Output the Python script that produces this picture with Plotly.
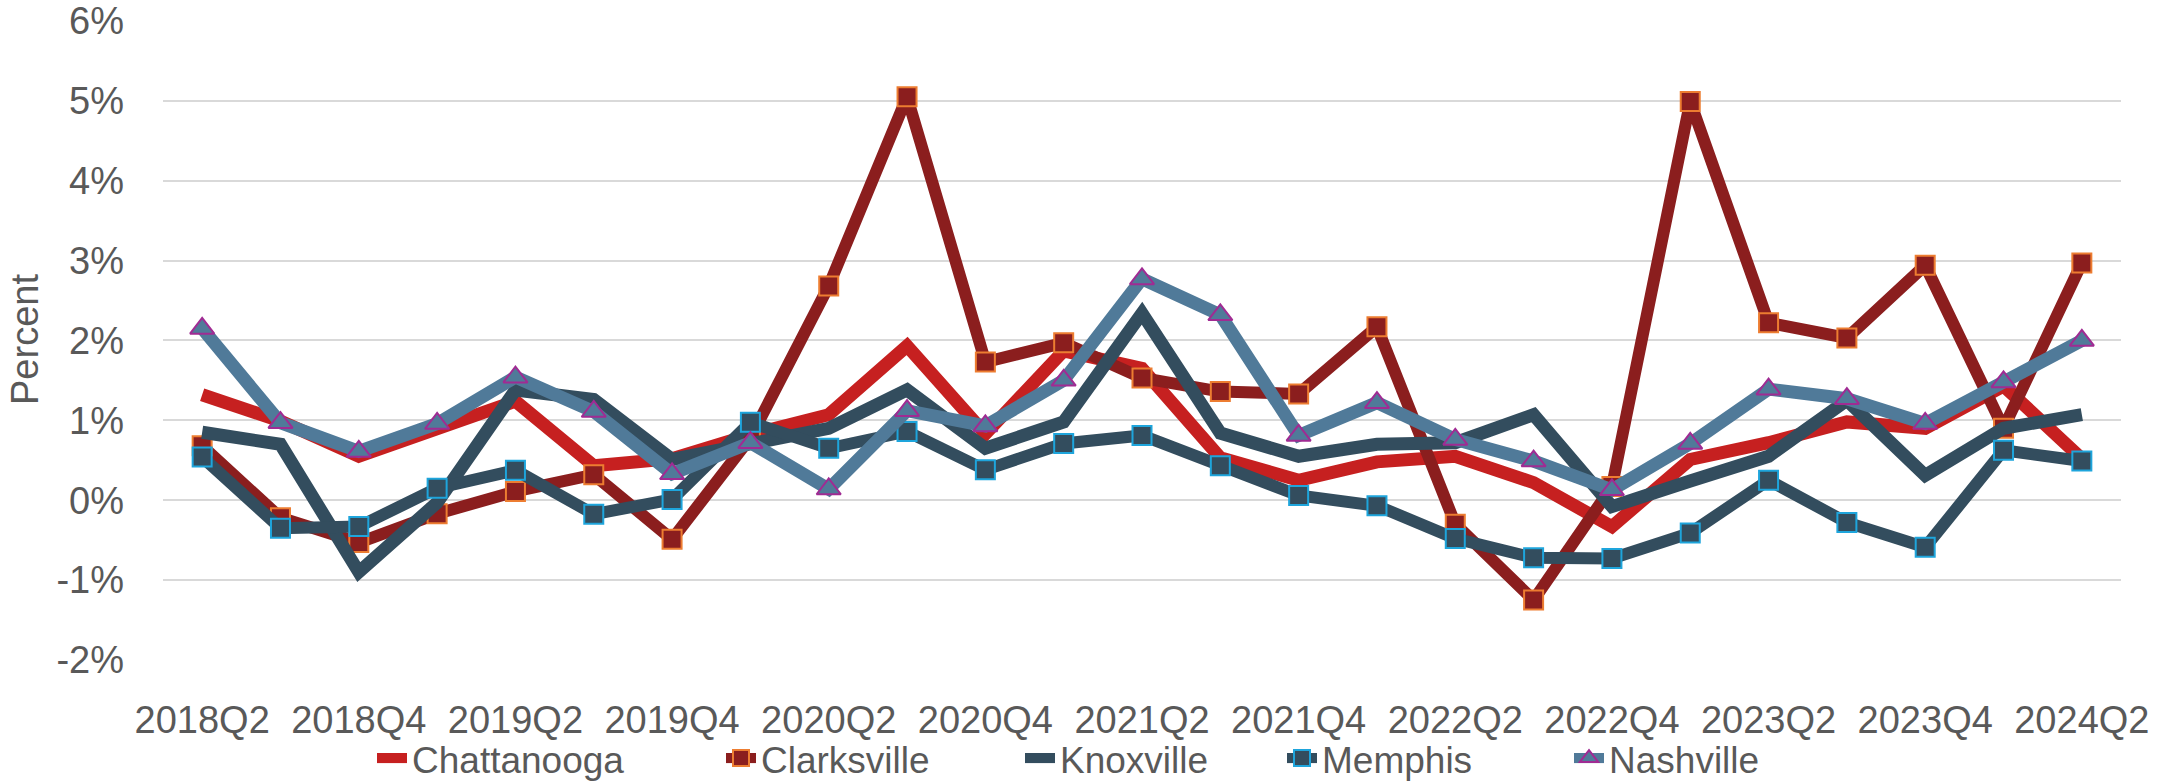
import plotly.graph_objects as go

quarters = ["2018Q2", "2018Q3", "2018Q4", "2019Q1", "2019Q2", "2019Q3", "2019Q4",
            "2020Q1", "2020Q2", "2020Q3", "2020Q4", "2021Q1", "2021Q2", "2021Q3",
            "2021Q4", "2022Q1", "2022Q2", "2022Q3", "2022Q4", "2023Q1", "2023Q2",
            "2023Q3", "2023Q4", "2024Q1", "2024Q2"]
x_tick_labels = ["2018Q2", "2018Q4", "2019Q2", "2019Q4", "2020Q2", "2020Q4", "2021Q2",
                 "2021Q4", "2022Q2", "2022Q4", "2023Q2", "2023Q4", "2024Q2"]

chattanooga = [1.32, 0.99, 0.55, 0.88, 1.24, 0.43, 0.52, 0.82, 1.07, 1.93, 0.83, 1.87, 1.65,
               0.53, 0.25, 0.48, 0.55, 0.22, -0.33, 0.51, 0.72, 0.98, 0.90, 1.43, 0.52]
clarksville = [0.68, -0.22, -0.53, -0.17, 0.11, 0.32, -0.49, 0.78, 2.68, 5.05, 1.73, 1.97, 1.53,
               1.36, 1.33, 2.17, -0.30, -1.25, 0.17, 4.99, 2.22, 2.03, 2.94, 0.90, 2.97]
knoxville = [0.85, 0.70, -0.90, -0.03, 1.38, 1.26, 0.51, 0.70, 0.90, 1.38, 0.65, 0.98, 2.34,
             0.84, 0.55, 0.70, 0.72, 1.07, -0.08, 0.24, 0.55, 1.25, 0.31, 0.90, 1.07]
memphis = [0.54, -0.35, -0.33, 0.15, 0.375, -0.175, 0.01, 0.975, 0.65, 0.86, 0.38, 0.71, 0.81,
           0.43, 0.06, -0.07, -0.48, -0.72, -0.73, -0.41, 0.25, -0.28, -0.59, 0.625, 0.49]
nashville = [2.15, 0.97, 0.61, 0.96, 1.54, 1.11, 0.33, 0.72, 0.14, 1.12, 0.93, 1.50, 2.77,
             2.32, 0.81, 1.22, 0.76, 0.49, 0.13, 0.71, 1.39, 1.27, 0.96, 1.48, 2.00]

y_tick_vals = [-2, -1, 0, 1, 2, 3, 4, 5, 6]
y_tick_text = ["-2%", "-1%", "0%", "1%", "2%", "3%", "4%", "5%", "6%"]

FONT = "Liberation Sans, Arial, sans-serif"
GREY = "#595959"
W, H = 2161, 782
ML, MR, MT, MB = 163, 40, 20, 122

fig = go.Figure()
fig.add_trace(go.Scatter(x=quarters, y=chattanooga, name="Chattanooga", mode="lines",
                         legend="legend",
                         line=dict(color="#C62020", width=13)))
fig.add_trace(go.Scatter(x=quarters, y=clarksville, name="Clarksville", mode="lines+markers",
                         legend="legend2",
                         line=dict(color="#8B1E1E", width=12),
                         marker=dict(symbol="square", size=19, color="#8B1E1E",
                                     line=dict(color="#ED7D31", width=2))))
fig.add_trace(go.Scatter(x=quarters, y=knoxville, name="Knoxville", mode="lines",
                         legend="legend3",
                         line=dict(color="#334D5E", width=13)))
fig.add_trace(go.Scatter(x=quarters, y=memphis, name="Memphis", mode="lines+markers",
                         legend="legend4",
                         line=dict(color="#334D5E", width=12),
                         marker=dict(symbol="square", size=19, color="#334D5E",
                                     line=dict(color="#1EA5DC", width=2))))
fig.add_trace(go.Scatter(x=quarters, y=nashville, name="Nashville", mode="lines+markers",
                         legend="legend5",
                         line=dict(color="#507A99", width=13),
                         marker=dict(symbol="triangle-up", size=21, color="#507A99",
                                     line=dict(color="#A02B93", width=2))))

# legend text start positions (px)
legend_text_x = [413, 762, 1061, 1323, 1610]
legend_keys = ["legend", "legend2", "legend3", "legend4", "legend5"]


def legend_box(tx):
    return dict(orientation="h", xref="container", x=(tx - 41) / W, xanchor="left",
                yref="container", y=0.03, yanchor="middle",
                font=dict(family=FONT, size=37, color=GREY),
                bgcolor="rgba(0,0,0,0)", borderwidth=0)


plot_w = W - ML - MR
fig.update_layout(
    width=W, height=H, autosize=False,
    margin=dict(l=ML, r=MR, t=MT, b=MB, autoexpand=False),
    paper_bgcolor="white", plot_bgcolor="white",
    font=dict(family=FONT, size=38, color=GREY),
    showlegend=True,
    **{k: legend_box(tx) for k, tx in zip(legend_keys, legend_text_x)},
    annotations=[dict(text="Percent", textangle=-90, xref="paper", yref="paper",
                      x=(25 - ML) / plot_w, y=0.5, xanchor="center", yanchor="middle",
                      showarrow=False, font=dict(family=FONT, size=38, color=GREY))],
)
fig.update_xaxes(type="category", categoryorder="array", categoryarray=quarters,
                 range=[-0.5, 24.5], tickmode="array", tickvals=x_tick_labels,
                 ticktext=x_tick_labels, showgrid=False, zeroline=False, showline=False,
                 ticks="", ticklabelstandoff=34, tickangle=0, automargin=False,
                 tickfont=dict(family=FONT, size=38, color=GREY))
fig.update_yaxes(range=[-2, 6.01], tickmode="array", tickvals=y_tick_vals, ticktext=y_tick_text,
                 showgrid=True, gridcolor="#D9D9D9", gridwidth=2, zeroline=False,
                 showline=False, ticks="", ticklabelstandoff=38, automargin=False,
                 tickfont=dict(family=FONT, size=38, color=GREY))

fig.write_html("out.html", config={"displayModeBar": False},
               post_script="document.body.style.margin='0';document.body.style.overflow='hidden';")
